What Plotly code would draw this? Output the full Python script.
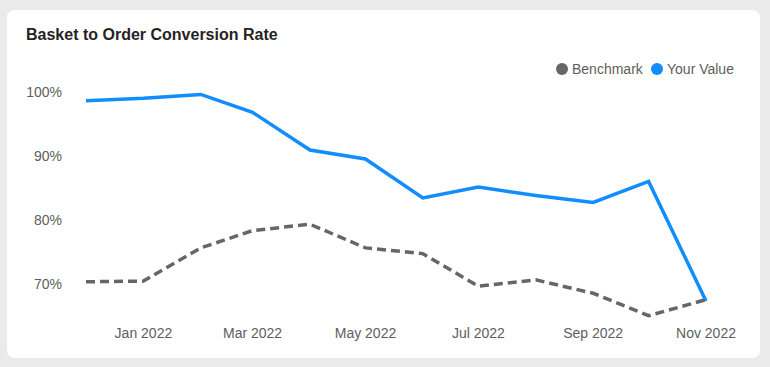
import plotly.graph_objects as go

months = ["2021-12-01", "2022-01-01", "2022-02-01", "2022-03-01", "2022-04-01", "2022-05-01",
          "2022-06-01", "2022-07-01", "2022-08-01", "2022-09-01", "2022-10-01", "2022-11-01"]
your_value = [98.7, 99.1, 99.7, 96.9, 91.0, 89.6, 83.5, 85.2, 83.9, 82.8, 86.1, 67.4]
benchmark = [70.4, 70.5, 75.7, 78.4, 79.4, 75.7, 74.8, 69.7, 70.7, 68.6, 65.1, 67.6]
y_ticks = [70, 80, 90, 100]
y_tick_labels = ["70%", "80%", "90%", "100%"]
x_ticks = ["2022-01-01", "2022-03-01", "2022-05-01", "2022-07-01", "2022-09-01", "2022-11-01"]

W, H = 770, 367
L, R, T, B = 80, 58, 86, 44
PW, PH = W - L - R, H - T - B

def px(x):
    return (x - L) / PW

def py(y):
    return (H - B - y) / PH

BLUE = "#118DFF"
GREY = "#666666"
TXT = "#605E5C"
FONT = "Liberation Sans, Arial, sans-serif"

fig = go.Figure()
fig.add_trace(go.Scatter(x=months, y=your_value, name="Your Value", mode="lines",
                         line=dict(color=BLUE, width=3.5), showlegend=False))
fig.add_trace(go.Scatter(x=months, y=benchmark, name="Benchmark", mode="lines",
                         line=dict(color=GREY, width=3.5, dash="9px,5px"), showlegend=False))

# card background with rounded corners
x0, x1, y0, y1, r = 7, 760, 10, 358, 8
path = (f"M {px(x0 + r)} {py(y0)} L {px(x1 - r)} {py(y0)} Q {px(x1)} {py(y0)} {px(x1)} {py(y0 + r)} "
        f"L {px(x1)} {py(y1 - r)} Q {px(x1)} {py(y1)} {px(x1 - r)} {py(y1)} "
        f"L {px(x0 + r)} {py(y1)} Q {px(x0)} {py(y1)} {px(x0)} {py(y1 - r)} "
        f"L {px(x0)} {py(y0 + r)} Q {px(x0)} {py(y0)} {px(x0 + r)} {py(y0)} Z")
shapes = [dict(type="path", path=path, xref="paper", yref="paper", fillcolor="white",
               line=dict(width=0), layer="below")]

# custom legend
legend_items = [("Benchmark", GREY, 562), ("Your Value", BLUE, 657)]
annotations = []
for name, color, cx in legend_items:
    cy, rad = 69, 6
    shapes.append(dict(type="circle", xref="paper", yref="paper",
                       x0=px(cx - rad), x1=px(cx + rad), y0=py(cy + rad), y1=py(cy - rad),
                       fillcolor=color, line=dict(width=0)))
    annotations.append(dict(text=name, xref="paper", yref="paper", x=px(cx + 8), y=py(cy),
                            xanchor="left", yanchor="middle", showarrow=False,
                            font=dict(family=FONT, size=14, color=TXT)))

fig.update_layout(
    width=W, height=H,
    margin=dict(l=L, r=R, t=T, b=B),
    paper_bgcolor="#EAEAEA", plot_bgcolor="rgba(0,0,0,0)",
    title=dict(text="<b>Basket to Order Conversion Rate</b>", xref="container", yref="container",
               x=26 / W, y=1 - 34 / H, xanchor="left", yanchor="middle",
               font=dict(family=FONT, size=16, color="#252423")),
    shapes=shapes, annotations=annotations,
    showlegend=False,
    xaxis=dict(type="date", range=["2021-11-27 18:00", "2022-11-04 06:00"],
               tickvals=x_ticks, tickformat="%b %Y", showgrid=False, zeroline=False,
               showline=False, tickfont=dict(family=FONT, size=14, color=TXT)),
    yaxis=dict(range=[63.95, 101.02], tickvals=y_ticks, ticktext=y_tick_labels, showgrid=False,
               zeroline=False, showline=False, ticklabelstandoff=17,
               tickfont=dict(family=FONT, size=14, color=TXT)),
)

fig.write_html("out.html", config={"displayModeBar": False},
               post_script="document.body.style.margin='0';")
